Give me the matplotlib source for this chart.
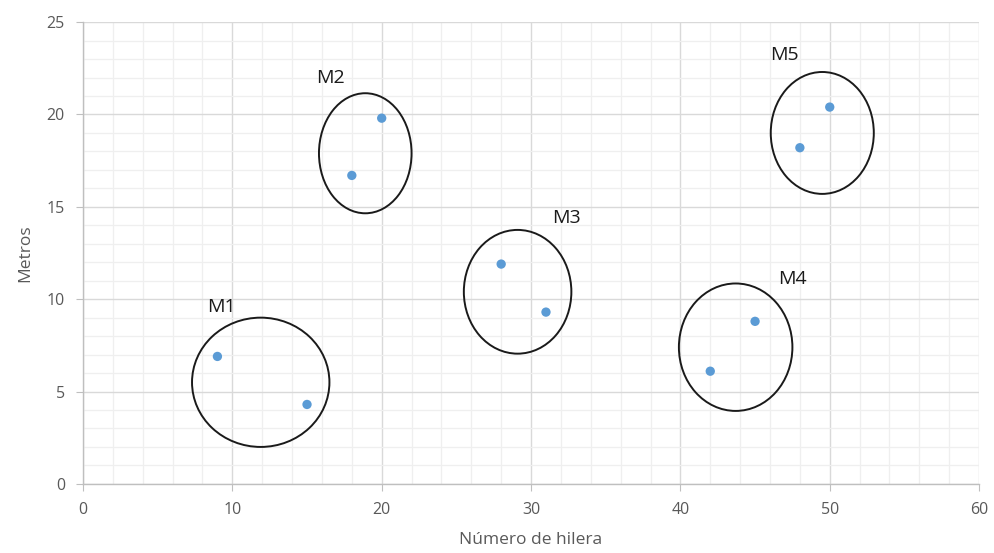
import matplotlib.pyplot as plt
from matplotlib.patches import Ellipse
from matplotlib.ticker import MultipleLocator

# hilera / metros por punto
hilera = [9, 15, 18, 20, 28, 31, 42, 45, 48, 50]
metros = [6.9, 4.3, 16.7, 19.8, 11.9, 9.3, 6.1, 8.8, 18.2, 20.4]

# grupos marcados con elipses: centro x, centro y, ancho, alto
grupos = ["M1", "M2", "M3", "M4", "M5"]
elipse_x = [11.9, 18.9, 29.1, 43.7, 49.5]
elipse_y = [5.5, 17.9, 10.4, 7.4, 19.0]
elipse_w = [9.2, 6.2, 7.2, 7.6, 6.9]
elipse_h = [7.0, 6.5, 6.7, 6.9, 6.6]
etiqueta_x = [9.3, 16.6, 32.4, 47.5, 47.0]
etiqueta_y = [9.6, 22.0, 14.4, 11.1, 23.2]

plt.rcParams['font.family'] = ['Open Sans', 'DejaVu Sans']

fig = plt.figure(figsize=(9.94, 5.53), dpi=100)
ax = fig.add_axes([0.0835, 0.125, 0.9015, 0.835])

ax.set_xlim(0, 60)
ax.set_ylim(0, 25)
ax.xaxis.set_major_locator(MultipleLocator(10))
ax.xaxis.set_minor_locator(MultipleLocator(2))
ax.yaxis.set_major_locator(MultipleLocator(5))
ax.yaxis.set_minor_locator(MultipleLocator(1))

ax.grid(which='minor', color='#efefef', lw=0.9)
ax.grid(which='major', color='#d9d9d9', lw=1.0)
ax.set_axisbelow(True)

for s in ['top', 'right']:
    ax.spines[s].set_visible(False)
for s in ['left', 'bottom']:
    ax.spines[s].set_color('#bfbfbf')
    ax.spines[s].set_linewidth(1.0)

ax.tick_params(which='major', length=5, color='#bfbfbf', labelsize=11.5,
               labelcolor='#595959', pad=8)
ax.tick_params(which='minor', length=0)

ax.scatter(hilera, metros, s=45, color='#5b9bd5', zorder=3, edgecolors='none')

for g, cx, cy, w, h, lx, ly in zip(grupos, elipse_x, elipse_y, elipse_w, elipse_h,
                                   etiqueta_x, etiqueta_y):
    ax.add_patch(Ellipse((cx, cy), w, h, fill=False, ec='#1a1a1a', lw=1.4, zorder=4))
    ax.text(lx, ly, g, ha='center', va='center', fontsize=14, color='#1a1a1a')

ax.set_xlabel('Número de hilera', fontsize=12.5, color='#595959', labelpad=10)
ax.set_ylabel('Metros', fontsize=12.5, color='#595959', labelpad=10)

fig.savefig('out.png', dpi=100)
